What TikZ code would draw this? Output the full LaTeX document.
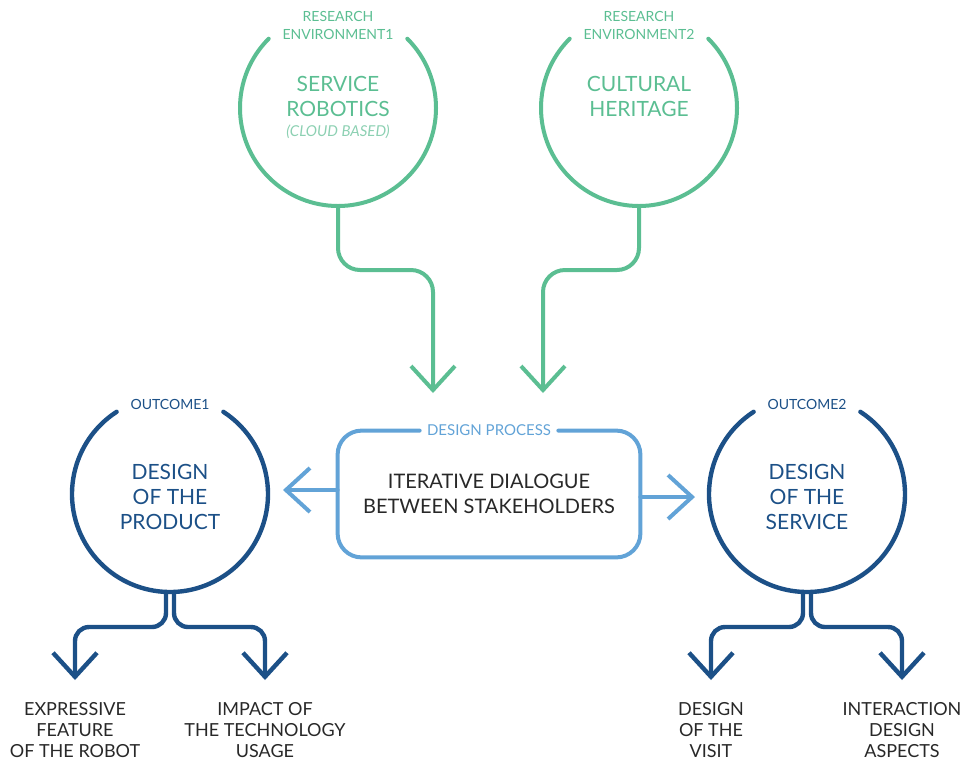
\documentclass[tikz,border=0pt]{standalone}
\usepackage{fontspec}
\setmainfont{Lato}
\usetikzlibrary{arrows.meta, positioning, calc}
\definecolor{mint}{RGB}{91,190,146}
\definecolor{palemint}{RGB}{140,208,178}
\definecolor{skyblue}{RGB}{98,163,215}
\definecolor{navy}{RGB}{28,80,135}
\definecolor{ink}{RGB}{40,40,40}

\begin{document}
\begin{tikzpicture}[x=0.5pt, y=-0.5pt]
\tikzset{
  ring/.style={
    circle,
    minimum size=98pt,
    inner sep=0pt,
    outer sep=0pt
  },
  ringtext/.style={
    align=center,
    inner sep=0pt,
    font=\fontsize{10.5}{12.5}\selectfont
  },
  tag/.style={
    align=center,
    inner sep=0pt,
    font=\fontsize{7}{9}\selectfont
  },
  lbl/.style={
    align=center,
    inner sep=0pt,
    text=ink,
    font=\fontsize{9}{10.5}\selectfont
  },
  gline/.style={draw=mint, line width=2pt, line cap=round},
  pline/.style={draw=skyblue, line width=2pt, line cap=round},
  bline/.style={draw=navy, line width=2.2pt, line cap=round},
  barb/.style={-{Straight Barb[length=12pt, width=22pt]}}
}
\useasboundingbox (0,0) rectangle (963,762);

% Research environments
\node[ring] (robot) at (338,108) {};
\node[ring] (heritage) at (639,108) {};
\draw[gline] (robot.135) arc[start angle=135, end angle=405, radius=49pt];
\draw[gline] (heritage.135) arc[start angle=135, end angle=405, radius=49pt];
\node[tag, text=mint] (env1) at (338,25) {RESEARCH\\ENVIRONMENT1};
\node[tag, text=mint] (env2) at (639,25) {RESEARCH\\ENVIRONMENT2};
\node[ringtext, text=mint] (robottxt) at (338,96) {SERVICE\\ROBOTICS};
\node[tag, text=palemint, font=\fontsize{7.5}{9}\selectfont\itshape, below=4pt of robottxt] (cloud) {(CLOUD BASED)};
\node[ringtext, text=mint] (heritagetxt) at (639,96) {CULTURAL\\HERITAGE};

% Design process box
\node[ringtext, text=ink, font=\fontsize{10}{12.5}\selectfont, minimum width=151pt, minimum height=63pt] (dialog) at (489,494) {ITERATIVE DIALOGUE\\BETWEEN STAKEHOLDERS};
\node[tag, text=skyblue, font=\fontsize{7.5}{9}\selectfont, inner xsep=3.5pt] (process) at (dialog.north) {DESIGN PROCESS};
\draw[pline, rounded corners=12pt] (process.east) -- (dialog.north east) -- (dialog.south east) -- (dialog.south west) -- (dialog.north west) -- (process.west);

% Outcomes
\node[ring] (product) at (170,494) {};
\node[ring] (service) at (807,494) {};
\draw[bline] (product.123) arc[start angle=123, end angle=417, radius=49pt];
\draw[bline] (service.123) arc[start angle=123, end angle=417, radius=49pt];
\node[tag, text=navy] (out1tag) at (170,404) {OUTCOME1};
\node[tag, text=navy] (out2tag) at (807,404) {OUTCOME2};
\node[ringtext, text=navy] (producttxt) at (170,497) {DESIGN\\OF THE\\PRODUCT};
\node[ringtext, text=navy] (servicetxt) at (807,497) {DESIGN\\OF THE\\SERVICE};

% Arrow ends
\coordinate (in1) at (433,393);
\coordinate (in2) at (543,393);
\coordinate (toprod) at (283,490);
\coordinate (toserv) at (695,497);
\coordinate (expr) at (75,680);
\coordinate (impact) at (265,680);
\coordinate (visit) at (711,680);
\coordinate (inter) at (902,680);

% Inputs to the process
\draw[gline, barb, rounded corners=11pt] (robot.south) -- ++(0,64) -| (in1);
\draw[gline, barb, rounded corners=11pt] (heritage.south) -- ++(0,64) -| (in2);

% Process to outcomes
\draw[pline, barb] ([yshift=2pt]dialog.west) -- (toprod);
\draw[pline, barb] ([yshift=-1.5pt]dialog.east) -- (toserv);

% Outcome branches
\draw[bline, barb, rounded corners=7pt] ([xshift=-2pt]product.south) -- ++(0,35) -| (expr);
\draw[bline, barb, rounded corners=7pt] ([xshift=2pt]product.south) -- ++(0,35) -| (impact);
\draw[bline, barb, rounded corners=7pt] ([xshift=-2pt]service.south) -- ++(0,35) -| (visit);
\draw[bline, barb, rounded corners=7pt] ([xshift=2pt]service.south) -- ++(0,35) -| (inter);

% Labels
\node[lbl, below=11pt of expr] (exprlbl) {EXPRESSIVE\\FEATURE\\OF THE ROBOT};
\node[lbl, below=11pt of impact] (impactlbl) {IMPACT OF\\THE TECHNOLOGY\\USAGE};
\node[lbl, below=11pt of visit] (visitlbl) {DESIGN\\OF THE\\VISIT};
\node[lbl, below=11pt of inter] (interlbl) {INTERACTION\\DESIGN\\ASPECTS};

\end{tikzpicture}
\end{document}
